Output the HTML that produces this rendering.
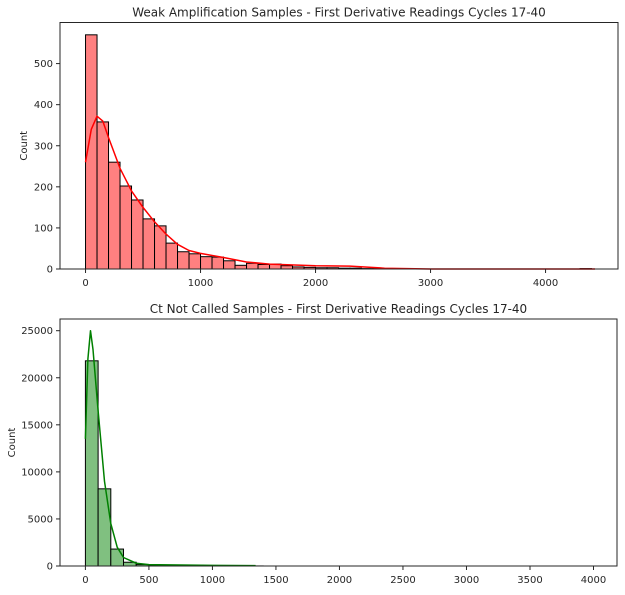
<!DOCTYPE html>
<html><head><meta charset="utf-8"><style>
body{margin:0;background:#fff;font-family:"Liberation Sans","DejaVu Sans",sans-serif}
svg text{font-family:"DejaVu Sans","Liberation Sans",sans-serif;fill:#262626}
</style></head><body>
<svg id="c" width="625" height="590" xmlns="http://www.w3.org/2000/svg"></svg>
<script>
const topBins = [570,358,260,202,168,122,105,63,42,37,30,29,20,9,14,11,12,8,5,4,3,3,2,2,1,1,0,0,0,0,0,0,0,0,0,0,0,0,0,0,0,0,0,1];
const topKdeX = [0,50,100,150,200,300,400,500,600,700,800,900,1000,1200,1400,1600,2000,2300,2600,3000,4430];
const topKdeY = [260,340,372,360,320,245,190,150,115,85,60,45,38,28,17,12,8,7,2,0,0];
const topXTicks = [0,1000,2000,3000,4000];
const topYTicks = [0,100,200,300,400,500];
const botBins = [21800,8200,1800,400,150,80,50,40,30,25,20,15,10,8];
const botKdeX = [0,20,40,60,100,150,200,250,300,400,500,1000,1340];
const botKdeY = [13500,22000,25000,23000,16500,9000,4500,2000,900,300,150,60,40];
const botXTicks = [0,500,1000,1500,2000,2500,3000,3500,4000];
const botYTicks = [0,5000,10000,15000,20000,25000];

const NS="http://www.w3.org/2000/svg", svg=document.getElementById('c');
function mk(t,a,p){const e=document.createElementNS(NS,t);for(const k in a)e.setAttribute(k,a[k]);(p||svg).appendChild(e);return e;}

function panel(o){
  const g=mk('g',{});
  
  
  const sx=v=>o.L+(v-o.x0)/(o.x1-o.x0)*(o.R-o.L);
  const sy=v=>o.B-(v-o.y0)/(o.y1-o.y0)*(o.B-o.T);
  o.bins.forEach((c,i)=>{ if(c<=0)return;
    const r=mk('rect',{x:sx(i*o.bw),y:sy(c),width:sx((i+1)*o.bw)-sx(i*o.bw),height:sy(0)-sy(c),fill:o.fill,stroke:'#000','stroke-width':1},g);
    
    
  });
  const d=o.kx.map((x,i)=>(i?'L':'M')+sx(x).toFixed(1)+','+sy(o.ky[i]).toFixed(1)).join('');
  const p=mk('path',{d:d,fill:'none',stroke:o.line,'stroke-width':1.5,'stroke-linejoin':'round'},g);
  
  
  const f=mk('rect',{x:o.L,y:o.T,width:o.R-o.L,height:o.B-o.T,fill:'none',stroke:'#262626','stroke-width':1},g);
  
  
  o.xt.forEach(v=>{const x=sx(v);
    mk('line',{x1:x,x2:x,y1:o.B,y2:o.B+4,stroke:'#262626'},g);
    const t=mk('text',{x:x,y:o.B+17,'text-anchor':'middle','font-size':10},g);t.textContent=v;
    
    
  });
  o.yt.forEach(v=>{const y=sy(v);
    mk('line',{x1:o.L-4,x2:o.L,y1:y,y2:y,stroke:'#262626'},g);
    const t=mk('text',{x:o.L-7,y:y+3.5,'text-anchor':'end','font-size':10},g);t.textContent=v;
    
    
  });
  const yl=mk('text',{x:0,y:0,'text-anchor':'middle','font-size':10,transform:`translate(${o.ylx},${(o.T+o.B)/2}) rotate(-90)`},g);yl.textContent='Count';
  
  
  const ti=mk('text',{x:(o.L+o.R)/2,y:o.T-6,'text-anchor':'middle','font-size':12},g);ti.textContent=o.title;
  
  
}
panel({name:'weak-amplification-histogram',L:60,R:618,T:22.5,B:269,x0:-222,x1:4630,y0:0,y1:600,bw:100,bins:topBins,kx:topKdeX,ky:topKdeY,fill:'#ff8080',line:'#ff0000',xt:topXTicks,yt:topYTicks,ylx:27,title:'Weak Amplification Samples - First Derivative Readings Cycles 17-40'});
panel({name:'ct-not-called-histogram',L:60,R:617,T:319,B:566,x0:-200,x1:4185,y0:0,y1:26243,bw:100,bins:botBins,kx:botKdeX,ky:botKdeY,fill:'#80c080',line:'#008000',xt:botXTicks,yt:botYTicks,ylx:15,title:'Ct Not Called Samples - First Derivative Readings Cycles 17-40'});
</script>
</body></html>
